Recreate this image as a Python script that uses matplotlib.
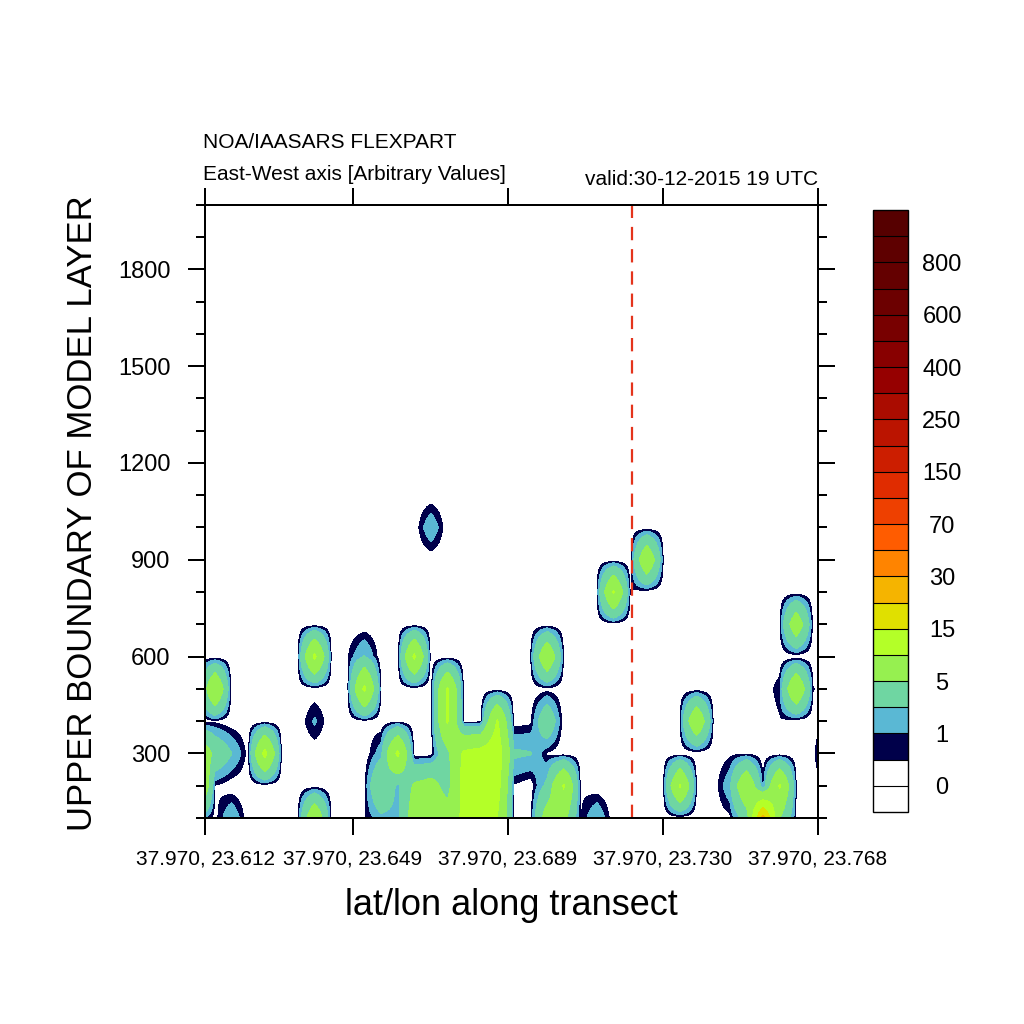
import numpy as np
import matplotlib
matplotlib.use("Agg")
import matplotlib.pyplot as plt
from matplotlib.ticker import MultipleLocator, NullLocator

plt.rcParams['font.family'] = ['Liberation Sans', 'DejaVu Sans']

# ---------------- data ----------------
# grid of the transect: column index along the transect, model layer tops (m)
grid_cols = np.arange(-1, 38)
grid_levels = np.arange(100, 2001, 100)

# non-zero grid values: column, layer top, value
pt_col = [-1, -1, -1,
          0, 0, 0, 0, 0,
          1, 1, 2, 3, 4,
          5, 6, 7, 6, 5, 6, 7,
          8, 9, 10, 8, 9, 9,
          12, 13,
          14, 14, 14, 14, 14,
          12, 13, 12, 13, 11, 11,
          11, 10, 10, 10, 11, 9, 9,
          15, 15, 15, 15,
          16, 16, 16, 16,
          17, 17, 17, 17,
          18, 18, 18, 18,
          19, 19,
          20, 20, 20,
          19, 20, 21,
          19, 20, 21, 20, 21, 22, 22,
          23,
          23, 24, 25,
          26, 27,
          27, 28, 29,
          28, 29, 30,
          31, 31, 31, 32, 32, 32,
          33, 33, 34, 34, 35, 35,
          34, 34, 35, 36,
          34, 35, 36,
          37]
pt_lev = [100, 200, 300,
          100, 200, 300, 400, 500,
          100, 300, 300, 300, 300,
          600, 600, 600, 400, 100, 100, 100,
          500, 500, 500, 600, 600, 400,
          600, 1000,
          100, 200, 300, 400, 500,
          100, 100, 200, 200, 200, 100,
          300, 300, 200, 100, 400, 200, 100,
          100, 200, 300, 400,
          100, 200, 300, 400,
          100, 200, 300, 400,
          100, 200, 300, 400,
          300, 400,
          300, 400, 500,
          600, 600, 600,
          100, 100, 100, 200, 200, 200, 100,
          100,
          800, 800, 800,
          900, 900,
          200, 200, 200,
          400, 400, 400,
          100, 200, 300, 100, 200, 300,
          100, 200, 100, 200, 100, 200,
          400, 500, 500, 500,
          700, 700, 700,
          300]
pt_val = [1.4, 12, 9,
          0.2, 0.45, 4, 0.3, 10,
          1.9, 2.05, 0.2, 11.5, 0.45,
          0.45, 11, 0.45, 1.15, 0.4, 9, 0.4,
          0.4, 11, 0.4, 0.45, 2.1, 0.2,
          11, 1.8,
          7, 3.5, 4, 10.5, 10.5,
          7, 8, 5.5, 6.5, 1.5, 1.5,
          11, 1.5, 5, 1.5, 0.2, 0.3, 0.4,
          11, 12, 11, 0.2,
          12, 13, 12, 0.2,
          10, 12, 13, 10.5,
          0.4, 0.4, 2.3, 0.1,
          2.1, 0.3,
          0.35, 4, 0.2,
          0.4, 9, 0.4,
          0.2, 7, 6, 2.5, 10.5, 0.4, 0.4,
          1.9,
          0.45, 10.5, 0.45,
          9, 0.4,
          0.4, 10.5, 0.4,
          0.45, 9, 0.45,
          0.3, 1.7, 0.3, 3, 9, 0.35,
          22, 0.6, 5, 10.5, 0.3, 0.45,
          0.4, 0.8, 9.5, 0.55,
          0.3, 8, 0.3,
          3.5]

contour_levels = [-1, 0, 0.5, 1, 2, 5, 10, 15, 20, 30, 50, 70, 100, 150,
                  200, 250, 300, 400, 500, 600, 700, 800, 900, 1000]
fill_colors = ['#ffffff', '#ffffff', '#00004a', '#5ab8d4', '#6fd6a2',
               '#96f050', '#b4ff28', '#e0e000', '#f5b400', '#ff8400',
               '#ff5c00', '#ee4000', '#e02c00', '#cc1e00', '#bb1400',
               '#aa0c00', '#960000', '#880000', '#780000', '#6c0000',
               '#640000', '#5e0000', '#560000']
cbar_ticks = [0, 1, 5, 15, 30, 70, 150, 250, 400, 600, 800]

tick_cols = [-0.6, 8.3, 17.62, 26.97, 36.31]
tick_labels = ["37.970, 23.612", "37.970, 23.649", "37.970, 23.689",
               "37.970, 23.730", "37.970, 23.768"]
marker_col = 25.1

# ---------------- field on the model grid ----------------
Z = np.zeros((len(grid_levels), len(grid_cols)))
col_list = list(grid_cols)
lev_list = list(grid_levels)
for c, l, v in zip(pt_col, pt_lev, pt_val):
    Z[lev_list.index(l), col_list.index(c)] = v

# bilinear rendering of the cell interiors (as the original contour plot does)
sub = 12
xf = np.linspace(grid_cols[0], grid_cols[-1], (len(grid_cols) - 1) * sub + 1)
yf = np.linspace(grid_levels[0], grid_levels[-1],
                 (len(grid_levels) - 1) * sub + 1)
Zx = np.array([np.interp(xf, grid_cols, row) for row in Z])
Zf = np.array([np.interp(yf, grid_levels, Zx[:, j])
               for j in range(Zx.shape[1])]).T

# ---------------- figure ----------------
fig = plt.figure(figsize=(10.24, 10.24), dpi=100)
ax = fig.add_axes([205/1024, 1-818/1024, 613/1024, 613.3/1024])

cf = ax.contourf(xf, yf, Zf, levels=contour_levels, colors=fill_colors)
ax.axvline(marker_col, color='#e4341c', lw=1.6, ls=(0, (6, 4)))

ax.set_xlim(tick_cols[0], tick_cols[-1])
ax.set_ylim(100, 2000)
ax.set_xticks(tick_cols)
ax.set_xticklabels(tick_labels)
ax.xaxis.set_minor_locator(NullLocator())
ax.yaxis.set_major_locator(MultipleLocator(300))
ax.yaxis.set_minor_locator(MultipleLocator(100))

for s in ax.spines.values():
    s.set_linewidth(1.44)
ax.tick_params(which='both', direction='out', top=True, right=True,
               width=1.44, color='black')
ax.tick_params(which='major', length=12)
ax.tick_params(which='minor', length=6.5)
ax.tick_params(axis='x', labelsize=15, pad=11)
ax.tick_params(axis='y', labelsize=17, pad=12.7)

fig.text(0.499, 0.116, 'lat/lon along transect', ha='center', va='center',
         fontsize=26)
fig.text(0.081, 0.499, 'UPPER BOUNDARY OF MODEL LAYER', rotation=90,
         ha='center', va='center', fontsize=25)

fig.text(203/1024, 1-148/1024, 'NOA/IAASARS FLEXPART', fontsize=15,
         va='baseline', ha='left')
fig.text(203/1024, 1-180/1024, 'East-West axis [Arbitrary Values]',
         fontsize=15, va='baseline', ha='left')
fig.text(818/1024, 1-185/1024, 'valid:30-12-2015 19 UTC', fontsize=15,
         va='baseline', ha='right')

cax = fig.add_axes([873/1024, 1-812/1024, 35/1024, 602/1024])
cb = fig.colorbar(cf, cax=cax, ticks=cbar_ticks, drawedges=True,
                  spacing='uniform')
cb.outline.set_linewidth(1.0)
cb.outline.set_edgecolor('black')
cb.dividers.set_color('black')
cb.dividers.set_linewidth(0.8)
cax.set_yticklabels([str(t) for t in cbar_ticks])
cax.tick_params(length=0, labelsize=17, pad=24.5)
for t in cax.get_yticklabels():
    t.set_horizontalalignment('center')

fig.savefig('out.png', dpi=100, facecolor='white')
